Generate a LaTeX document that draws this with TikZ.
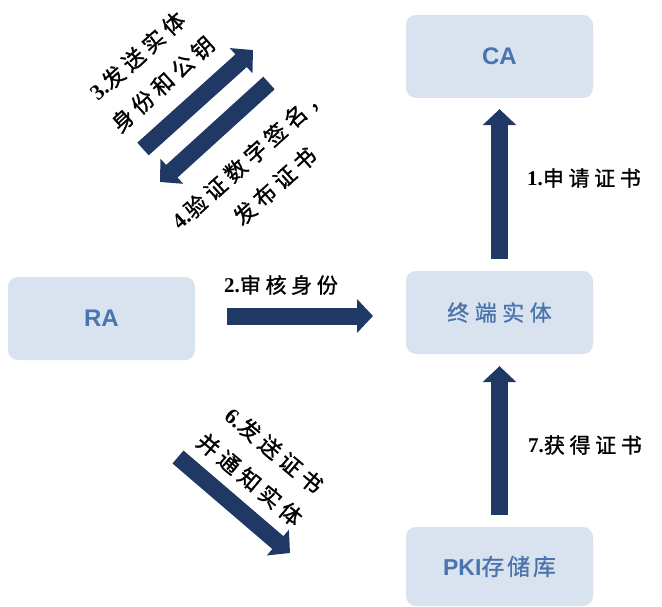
\documentclass[tikz,border=0pt]{standalone}
\usepackage{fontspec}
\setmainfont{Liberation Serif}
\newfontfamily\cjk[LetterSpace=22, FakeBold=1.2]{Noto Sans CJK SC}
\newfontfamily\cjkbox[LetterSpace=25, FakeBold=0.8]{Noto Sans CJK SC}
\newfontfamily\cjkpki[LetterSpace=12, FakeBold=0.8]{Noto Sans CJK SC}
\newfontfamily\sansb{Liberation Sans}
\usetikzlibrary{arrows.meta}
\definecolor{boxfill}{HTML}{D9E2EF}
\definecolor{boxtext}{HTML}{4A74AD}
\definecolor{navy}{HTML}{1F3864}
\begin{document}
\begin{tikzpicture}[x=1pt,y=-1pt,
  entity/.style={draw=none, fill=boxfill, rounded corners=10pt, minimum width=187pt, minimum height=83pt, text=boxtext, inner sep=0pt},
  fatarrow/.style={draw=navy, line width=17pt, -{Triangle[length=16pt,width=33pt]}},
  lbl/.style={font=\fontsize{21}{24}\selectfont, text=black, inner sep=0pt},
  rlbl/.style={font=\fontsize{22}{38}\selectfont, text=black, align=center, inner sep=0pt},
  boxcjk/.style={font=\fontsize{22}{24}\selectfont}]
\fill[white] (0,0) rectangle (662,607);
\useasboundingbox (0,0) rectangle (662,607);
% boxes
\node[entity] (CA) at (499.5,56.5) {\sansb\bfseries\fontsize{24}{28}\selectfont CA};
\node[entity] (RA) at (101.5,318.5) {\sansb\bfseries\fontsize{24}{28}\selectfont RA};
\node[entity, boxcjk] (term) at (499.5,312.5) {\cjkbox 终端实体};
\node[entity, minimum height=79pt] (PKI) at (499.5,566.5) {{\sansb\bfseries\fontsize{23}{26}\selectfont PKI}{\fontsize{23}{26}\selectfont\cjkpki 存储库}};
% arrows
\draw[fatarrow, shorten <=12pt, shorten >=11pt] (term.north) -- (CA.south);
\draw[fatarrow, shorten <=12pt, shorten >=12pt] (PKI.north) -- (term.south);
\coordinate (a2s) at (227,316);
\coordinate (a2e) at (373,316);
\draw[fatarrow] (a2s) -- (a2e);
\coordinate (a3s) at (143,149);
\coordinate (a3e) at (253,50);
\draw[fatarrow] (a3s) -- (a3e);
\coordinate (a4s) at (269,83);
\coordinate (a4e) at (160,182);
\draw[fatarrow] (a4s) -- (a4e);
\coordinate (a6s) at (178,457);
\coordinate (a6e) at (290,553);
\draw[fatarrow] (a6s) -- (a6e);
% labels
\node[lbl, anchor=west] (l1) at (527,178) {\textbf{1.}{\cjk 申请证书}};
\node[lbl, anchor=west] (l2) at (224,285) {\textbf{2.}{\cjk 审核身份}};
\node[lbl, anchor=west] (l7) at (528,445) {\textbf{7.}{\cjk 获得证书}};
\node[rlbl, rotate=42] (l3) at (150,70) {\textbf{3.}{\cjk 发送实体}\\{\cjk 身份和公钥}};
\node[rlbl, rotate=42] (l4) at (262,172) {\textbf{4.}{\cjk 验证数字签名，}\\{\cjk 发布证书}};
\node[rlbl, rotate=-40] (l6) at (262,465) {\textbf{6.}{\cjk 发送证书}\\{\cjk 并通知实体}};
\end{tikzpicture}
\end{document}
